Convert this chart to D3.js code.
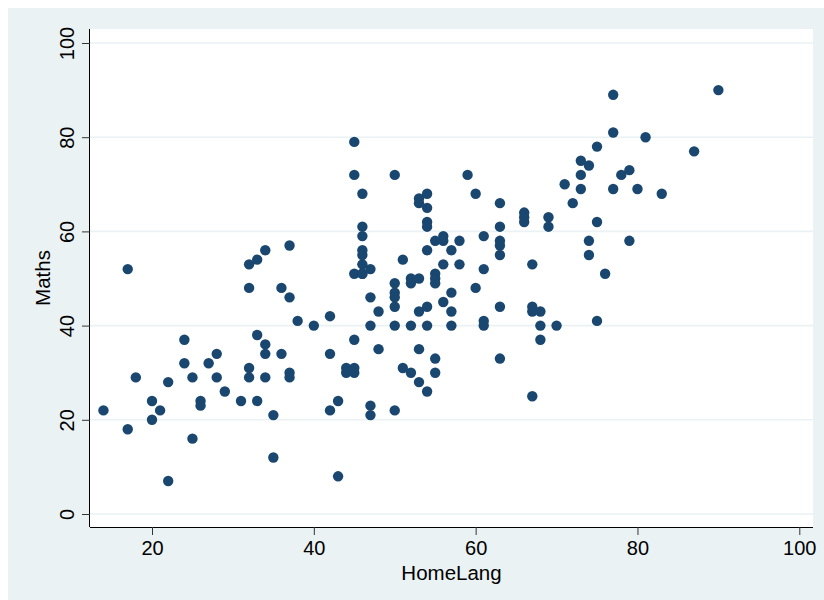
<!DOCTYPE html>
<html>
<head>
<meta charset="utf-8">
<script src="https://cdn.jsdelivr.net/npm/d3@7"></script>
<style>
  html, body { margin: 0; padding: 0; background: #ffffff; }
  svg { display: block; }
  text { font-family: "Liberation Sans", Arial, sans-serif; }
</style>
</head>
<body>
<svg id="chart" width="824" height="600"></svg>
<script>
// HomeLang (x) and Maths (y) scores
const homeLang = [
  14, 17, 17, 18, 20, 20, 21, 22, 22, 24, 24, 25, 25, 26, 26, 27, 28, 28, 29, 31,
  32, 32, 32, 32, 33, 33, 33, 34, 34, 34, 34, 35, 35, 36, 36, 37, 37, 37, 37, 38,
  40, 42, 42, 42, 43, 43, 44, 44, 45, 45, 45, 45, 45, 45, 46, 46, 46, 46, 46, 46,
  46, 46, 47, 47, 47, 47, 47, 48, 48, 50, 50, 50, 50, 50, 50, 50, 51, 51, 52, 52,
  52, 52, 53, 53, 53, 53, 53, 53, 54, 54, 54, 54, 54, 54, 54, 54, 55, 55, 55, 55,
  55, 55, 56, 56, 56, 56, 57, 57, 57, 57, 58, 58, 59, 60, 60, 61, 61, 61, 61, 63,
  63, 63, 63, 63, 63, 63, 66, 66, 66, 67, 67, 67, 67, 68, 68, 68, 69, 69, 70, 71,
  72, 73, 73, 73, 74, 74, 74, 75, 75, 75, 76, 77, 77, 77, 78, 79, 79, 80, 81, 83,
  87, 90
];
const maths = [
  22, 52, 18, 29, 24, 20, 22, 28, 7, 37, 32, 29, 16, 24, 23, 32, 34, 29, 26, 24,
  53, 48, 31, 29, 54, 38, 24, 56, 36, 34, 29, 21, 12, 48, 34, 57, 46, 30, 29, 41,
  40, 42, 34, 22, 24, 8, 31, 30, 79, 72, 51, 37, 31, 30, 68, 61, 59, 56, 55, 53,
  51, 51, 52, 46, 40, 23, 21, 43, 35, 72, 49, 47, 46, 44, 40, 22, 54, 31, 50, 49,
  40, 30, 67, 66, 50, 43, 35, 28, 68, 65, 62, 61, 56, 44, 40, 26, 58, 51, 50, 49,
  33, 30, 59, 58, 53, 45, 56, 47, 43, 40, 58, 53, 72, 68, 48, 59, 52, 41, 40, 66,
  61, 58, 57, 55, 44, 33, 64, 63, 62, 53, 44, 43, 25, 43, 40, 37, 63, 61, 40, 70,
  66, 75, 72, 69, 74, 58, 55, 78, 62, 41, 51, 89, 81, 69, 72, 73, 58, 69, 80, 68,
  77, 90
];
const xTicks = [20, 40, 60, 80, 100];
const yTicks = [0, 20, 40, 60, 80, 100];
const xTitle = "HomeLang";
const yTitle = "Maths";

const points = homeLang.map((h, i) => ({ x: h, y: maths[i] }));

const svg = d3.select("#chart");
const bg = "#eaf2f3";
const ink = "#1a476f";

// graph region
svg.append("rect").attr("x", 8).attr("y", 8).attr("width", 816).attr("height", 592).attr("fill", bg);

// plot region
const plot = { left: 90, right: 813, top: 29, bottom: 527 };
svg.append("rect")
  .attr("x", plot.left).attr("y", plot.top)
  .attr("width", plot.right - plot.left).attr("height", plot.bottom - plot.top)
  .attr("fill", "#ffffff");

const x = d3.scaleLinear().domain([20, 100]).range([152, 799.3]);
const y = d3.scaleLinear().domain([0, 100]).range([514, 43]);

// gridlines
svg.append("g").selectAll("line").data(yTicks).join("line")
  .attr("x1", plot.left).attr("x2", plot.right)
  .attr("y1", d => y(d)).attr("y2", d => y(d))
  .attr("stroke", bg).attr("stroke-width", 1.6);

// points
svg.append("g").selectAll("circle").data(points).join("circle")
  .attr("cx", d => x(d.x)).attr("cy", d => y(d.y))
  .attr("r", 5.2).attr("fill", ink);

// x axis
const xAxis = d3.axisBottom(x).tickValues(xTicks).tickSize(8).tickPadding(6).tickFormat(d3.format("d"));
const gx = svg.append("g").attr("transform", `translate(0,${plot.bottom})`).call(xAxis);
gx.select(".domain").attr("d", `M${plot.left},0.5H${plot.right}`).attr("stroke", "#000").attr("stroke-width", 1);
gx.selectAll(".tick line").attr("stroke", "#333");
gx.selectAll(".tick text").attr("font-size", 20).attr("fill", "#000")
  .attr("font-family", "Liberation Sans, Arial, sans-serif").attr("dy", "0.71em");

// y axis
const yAxis = d3.axisLeft(y).tickValues(yTicks).tickSize(8).tickFormat(d3.format("d"));
const gy = svg.append("g").attr("transform", `translate(${plot.left},0)`).call(yAxis);
gy.select(".domain").attr("d", `M-0.5,${plot.top}V${plot.bottom}`).attr("stroke", "#000").attr("stroke-width", 1);
gy.selectAll(".tick line").attr("stroke", "#333");
gy.selectAll(".tick text")
  .attr("font-size", 20).attr("fill", "#000")
  .attr("font-family", "Liberation Sans, Arial, sans-serif")
  .attr("x", null).attr("dy", null)
  .attr("text-anchor", "middle")
  .attr("transform", "translate(-16,0) rotate(-90)");

// titles
svg.append("text")
  .attr("x", (plot.left + plot.right) / 2).attr("y", 580)
  .attr("text-anchor", "middle").attr("font-size", 20.5).attr("fill", "#000")
  .text(xTitle);
svg.append("text")
  .attr("transform", `translate(50,${(plot.top + plot.bottom) / 2}) rotate(-90)`)
  .attr("text-anchor", "middle").attr("font-size", 20.5).attr("fill", "#000")
  .text(yTitle);
</script>
</body>
</html>
